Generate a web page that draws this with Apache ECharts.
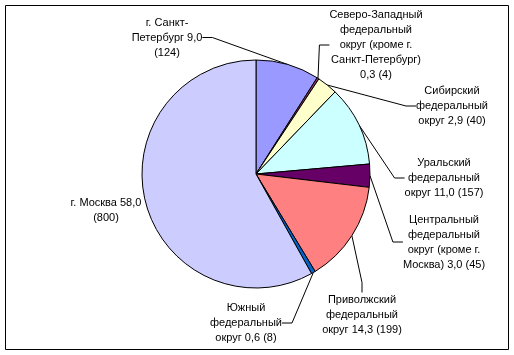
<!DOCTYPE html>
<html><head><meta charset="utf-8">
<script src="https://cdn.jsdelivr.net/npm/echarts@6/dist/echarts.min.js"></script>
<style>html,body{margin:0;padding:0;background:#fff}#c{width:514px;height:355px}</style>
</head><body><div id="c"></div>
<script>
const categories = [
  'г. Санкт-\nПетербург',
  'Северо-Западный\nфедеральный\nокруг (кроме г.\nСанкт-Петербург)',
  'Сибирский\nфедеральный\nокруг',
  'Уральский\nфедеральный\nокруг',
  'Центральный\nфедеральный\nокруг (кроме г.\nМосква)',
  'Приволжский\nфедеральный\nокруг',
  'Южный\nфедеральный\nокруг',
  'г. Москва'
];
const counts = [124, 4, 40, 157, 45, 199, 8, 800];
const percents = ['9,0', '0,3', '2,9', '11,0', '3,0', '14,3', '0,6', '58,0'];
const colors = ['#9999FF', '#993366', '#FFFFCC', '#CCFFFF', '#660066', '#FF8080', '#0066CC', '#CCCCFF'];
// separators: [before percent, before count]
const seps = [[' ', '\n'], ['\n', ' '], [' ', ' '], [' ', ' '], [' ', ' '], [' ', ' '], [' ', ' '], [' ', '\n']];
// label centres (layout only)
const labelPos = [[167, 37.5], [376, 45], [452, 106], [444, 178], [444, 242], [362, 315], [246, 323], [106, 210.5]];

const chart = echarts.init(document.getElementById('c'), null, {renderer: 'canvas'});
chart.setOption({
  animation: false,
  graphic: [{type: 'rect', shape: {x: 5.5, y: 5.5, width: 503, height: 344}, style: {fill: 'none', stroke: '#000', lineWidth: 1}, silent: true}],
  series: [{
    type: 'pie',
    center: [256, 174],
    radius: [0, 114],
    startAngle: 90,
    clockwise: true,
    silent: true,
    emphasis: {disabled: true},
    itemStyle: {borderColor: '#000', borderWidth: 1},
    label: {
      show: true,
      position: 'outside',
      color: '#000',
      fontFamily: 'Liberation Sans, Arial, sans-serif',
      fontSize: 11,
      lineHeight: 15,
      align: 'center',
      formatter: function (p) {
        const i = p.dataIndex;
        return categories[i] + seps[i][0] + percents[i] + seps[i][1] + '(' + counts[i] + ')';
      }
    },
    labelLine: {show: true, length: 10, length2: 10, lineStyle: {color: '#000', width: 1}},
    labelLayout: function (params) {
      const p = labelPos[params.dataIndex];
      return {x: p[0], y: p[1], align: 'center', verticalAlign: 'middle'};
    },
    data: categories.map((c, i) => ({name: c, value: counts[i], itemStyle: {color: colors[i]}, labelLine: {show: i !== 7}}))
  }]
});
</script></body></html>
